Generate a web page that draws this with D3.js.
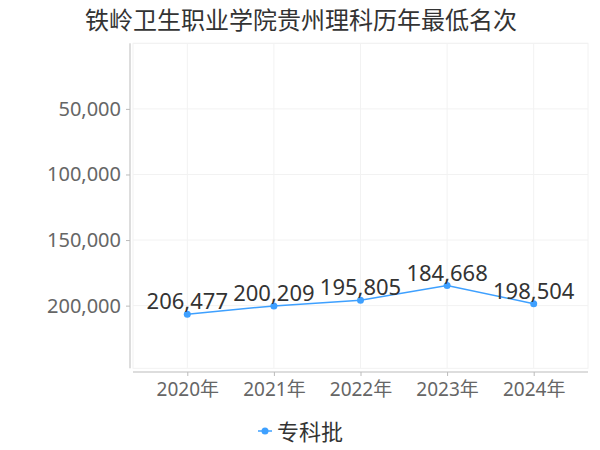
<!DOCTYPE html>
<html>
<head>
<meta charset="utf-8">
<script src="https://cdn.jsdelivr.net/npm/d3@7"></script>
<style>
  body { margin: 0; background: #fff; }
  text { font-family: "Noto Sans", "Noto Sans CJK SC", sans-serif; }
</style>
</head>
<body>
<div id="chart"></div>
<script>
const years = ['2020年', '2021年', '2022年', '2023年', '2024年'];
const ranks = [206477, 200209, 195805, 184668, 198504];
const yTicks = [50000, 100000, 150000, 200000];
const seriesName = '专科批';
const title = '铁岭卫生职业学院贵州理科历年最低名次';

const W = 600, H = 450;
const plot = { left: 133, right: 588, top: 43.3, bottom: 368.3 };
const color = '#3ea0ff';

const svg = d3.select('#chart').append('svg')
  .attr('width', W).attr('height', H);

// title
svg.append('text')
  .attr('x', 301).attr('y', 19)
  .attr('text-anchor', 'middle').attr('dominant-baseline', 'central')
  .attr('font-size', 24).attr('fill', '#333')
  .text(title);

const x = d3.scalePoint()
  .domain(years)
  .range([plot.left, plot.right])
  .padding(0.627);

// inverted axis: rank 0 at top, max * 1.2 at bottom
const y = d3.scaleLinear()
  .domain([0, d3.max(ranks) * 1.2])
  .range([plot.top, plot.bottom]);

// grid
const grid = svg.append('g').attr('stroke', '#f2f2f2').attr('stroke-width', 1);
grid.selectAll('.hg').data([0].concat(yTicks))
  .enter().append('line')
  .attr('x1', plot.left).attr('x2', plot.right)
  .attr('y1', d => y(d)).attr('y2', d => y(d));
grid.selectAll('.vg').data(years)
  .enter().append('line')
  .attr('x1', d => x(d)).attr('x2', d => x(d))
  .attr('y1', plot.top).attr('y2', plot.bottom);
grid.append('rect')
  .attr('x', plot.left).attr('y', plot.top)
  .attr('width', plot.right - plot.left).attr('height', plot.bottom - plot.top)
  .attr('fill', 'none');

// y axis
const yAxis = d3.axisLeft(y).tickValues(yTicks).tickSize(4).tickPadding(5)
  .tickFormat(d3.format(','));
const gy = svg.append('g').attr('transform', 'translate(130,0)').call(yAxis);
gy.select('.domain').attr('d', `M0,${plot.top}V${plot.bottom}`).attr('stroke', '#bbb');
gy.selectAll('.tick line').attr('stroke', '#bbb');
gy.selectAll('.tick text').attr('font-size', 20).attr('fill', '#666')
  .attr('font-family', '"Noto Sans", "Noto Sans CJK SC", sans-serif');

// x axis
const xAxis = d3.axisBottom(x).tickSize(4).tickPadding(7);
const gx = svg.append('g').attr('transform', 'translate(0,372)').call(xAxis);
gx.select('.domain').attr('d', `M${plot.left},0H${plot.right}`).attr('stroke', '#bbb');
gx.selectAll('.tick line').attr('stroke', '#bbb');
gx.selectAll('.tick text').attr('font-size', 19).attr('fill', '#666')
  .attr('font-family', '"Noto Sans", "Noto Sans CJK SC", sans-serif');

// line
const line = d3.line().x((d, i) => x(years[i])).y(d => y(d));
svg.append('path').datum(ranks)
  .attr('d', line).attr('fill', 'none')
  .attr('stroke', color).attr('stroke-width', 1.5);

svg.selectAll('.dot').data(ranks).enter().append('circle')
  .attr('cx', (d, i) => x(years[i])).attr('cy', d => y(d))
  .attr('r', 3.5).attr('fill', color);

svg.selectAll('.label').data(ranks).enter().append('text')
  .attr('x', (d, i) => x(years[i])).attr('y', d => y(d) - 5)
  .attr('text-anchor', 'middle')
  .attr('font-size', 22).attr('fill', '#333')
  .text(d => d3.format(',')(d));

// legend
const lg = svg.append('g').attr('transform', 'translate(265,431)');
lg.append('line').attr('x1', -7).attr('x2', 7)
  .attr('stroke', color).attr('stroke-width', 1.5);
lg.append('circle').attr('r', 3.5).attr('fill', color);
lg.append('text').attr('x', 12).attr('dominant-baseline', 'central')
  .attr('font-size', 22).attr('fill', '#333')
  .text(seriesName);
</script>
</body>
</html>
